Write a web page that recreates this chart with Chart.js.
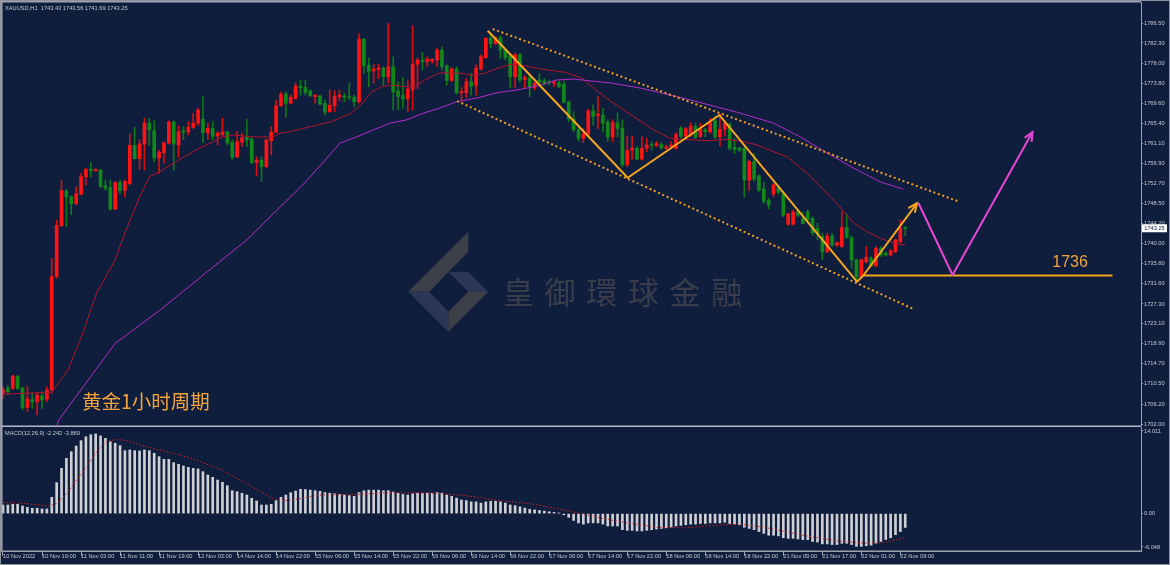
<!DOCTYPE html>
<html><head><meta charset="utf-8">
<script src="https://cdn.jsdelivr.net/npm/chart.js@4.4.1/dist/chart.umd.min.js"></script>
<style>
html,body{margin:0;padding:0;background:#101e3e;width:1170px;height:565px;overflow:hidden;}
#c1{position:absolute;left:0;top:0;}
#c2{position:absolute;left:0;top:427px;}
#frame{position:absolute;left:0;top:0;width:1168px;height:563px;border:1px solid #8d929e;pointer-events:none;}
</style></head><body>
<canvas id="c1" width="1170" height="427"></canvas>
<canvas id="c2" width="1170" height="138"></canvas>
<div id="frame"></div>
<script>
// ---------- DATA ----------
const symbolHeader = 'XAUUSD,H1  1743.43 1743.56 1741.69 1743.25';
const macdHeader = 'MACD(12,26,9) -2.242 -3.889';

const openP = [1708.5,1709.5,1709.5,1712.0,1709.5,1705.5,1707.1,1706.7,1707.9,1707.2,
1709.2,1733.1,1743.8,1751.0,1749.9,1748.5,1750.4,1754.1,1755.7,1755.4,
1755.5,1752.2,1751.8,1747.3,1752.9,1751.2,1752.7,1760.7,1757.9,1761.0,
1765.4,1763.8,1758.0,1759.2,1761.2,1765.6,1760.8,1763.8,1763.6,1764.5,
1765.4,1766.2,1763.4,1764.3,1762.7,1763.0,1763.5,1761.3,1758.3,1761.4,
1762.4,1762.0,1757.1,1757.6,1756.2,1761.7,1763.5,1769.1,1771.5,1769.6,
1770.6,1773.2,1772.9,1772.2,1771.0,1771.1,1769.6,1767.8,1769.1,1771.0,
1771.1,1771.0,1770.8,1769.9,1783.1,1777.6,1776.4,1776.7,1777.0,1775.2,
1777.3,1772.2,1771.3,1770.5,1772.4,1777.8,1778.7,1778.4,1778.5,1778.7,
1780.8,1777.5,1774.4,1776.8,1771.8,1771.8,1774.1,1773.4,1776.8,1779.2,
1783.3,1782.2,1783.4,1780.8,1779.6,1775.2,1779.8,1774.6,1775.0,1772.9,
1774.5,1774.3,1774.1,1773.8,1773.9,1773.6,1769.8,1766.3,1764.0,1762.2,
1763.1,1768.0,1767.0,1767.1,1765.6,1762.5,1765.5,1764.3,1756.6,1759.7,
1760.1,1757.8,1760.1,1760.9,1760.7,1760.9,1760.1,1760.4,1760.1,1764.4,
1762.6,1762.9,1764.7,1762.6,1764.0,1763.6,1765.9,1762.5,1764.1,1765.2,
1760.3,1760.1,1760.1,1753.4,1757.3,1754.3,1751.5,1749.1,1750.5,1751.8,
1750.5,1744.1,1744.1,1746.7,1745.3,1746.7,1745.3,1743.2,1741.5,1738.3,
1741.6,1739.7,1739.4,1743.4,1741.3,1736.6,1733.0,1736.2,1736.9,1735.3,
1739.0,1738.0,1737.6,1738.3,1740.4,1743.43];
const highP = [1709.9,1710.2,1712.3,1712.3,1709.9,1709.9,1708.5,1708.5,1708.8,1709.9,
1736.9,1745.0,1753.4,1751.5,1750.1,1752.0,1754.8,1755.9,1757.1,1755.8,
1755.7,1753.4,1753.4,1753.1,1753.4,1753.4,1763.1,1764.5,1761.9,1766.4,
1766.4,1765.9,1759.7,1761.5,1765.9,1765.9,1764.8,1764.7,1765.7,1767.5,
1768.5,1771.0,1765.4,1765.7,1763.6,1766.4,1763.8,1761.9,1763.6,1763.3,
1766.2,1762.4,1758.3,1758.3,1762.0,1764.7,1770.3,1772.0,1772.0,1771.3,
1773.9,1774.5,1774.5,1772.4,1771.4,1771.3,1770.3,1772.4,1772.2,1772.4,
1771.7,1773.8,1771.3,1784.3,1783.3,1779.1,1777.8,1777.8,1777.3,1786.4,
1779.4,1774.1,1775.0,1774.5,1785.9,1779.1,1780.3,1779.4,1778.9,1781.2,
1781.5,1777.7,1777.1,1777.3,1772.9,1774.8,1775.9,1777.7,1779.8,1783.4,
1784.3,1783.6,1783.8,1781.2,1779.9,1780.1,1780.1,1775.4,1775.6,1774.1,
1775.9,1774.8,1774.5,1774.5,1774.3,1774.3,1770.1,1767.8,1764.3,1764.3,
1768.3,1769.2,1771.0,1768.5,1766.1,1766.1,1767.6,1766.1,1762.7,1762.7,
1760.4,1762.5,1762.2,1761.5,1761.5,1761.3,1760.7,1761.5,1763.4,1764.7,
1764.5,1765.5,1765.4,1765.4,1764.3,1766.4,1766.8,1767.3,1765.7,1765.4,
1762.2,1760.4,1760.4,1757.6,1759.0,1754.5,1752.9,1749.6,1752.7,1752.2,
1751.0,1746.4,1747.1,1747.1,1746.7,1747.1,1745.7,1744.3,1742.2,1742.2,
1742.2,1740.4,1746.7,1746.3,1741.6,1736.7,1736.7,1739.4,1737.3,1739.4,
1739.4,1738.3,1738.8,1740.9,1745.0,1743.56];
const lowP = [1707.4,1708.3,1709.3,1709.2,1705.0,1704.6,1705.3,1703.9,1705.3,1706.7,
1708.5,1732.7,1743.6,1743.6,1746.1,1748.2,1750.3,1752.4,1754.1,1755.2,
1751.9,1751.3,1747.1,1747.2,1750.6,1749.8,1752.4,1757.8,1755.7,1755.5,
1760.7,1757.3,1754.8,1756.9,1761.0,1755.5,1758.2,1761.9,1762.9,1764.3,
1765.0,1761.3,1761.9,1761.9,1760.8,1762.6,1760.8,1757.8,1758.2,1760.5,
1760.5,1756.9,1754.3,1753.1,1756.1,1758.7,1763.4,1768.9,1766.6,1769.4,
1770.4,1771.3,1771.3,1771.0,1769.6,1769.2,1767.1,1767.7,1767.8,1770.1,
1769.9,1770.3,1768.9,1769.6,1775.9,1773.1,1773.8,1774.8,1773.4,1773.8,
1768.2,1768.2,1768.5,1767.8,1768.2,1772.7,1776.6,1777.3,1778.0,1777.3,
1776.6,1773.4,1774.1,1771.5,1770.1,1770.8,1771.3,1771.3,1776.6,1779.1,
1781.2,1781.9,1779.1,1778.7,1772.9,1772.9,1774.1,1772.9,1771.0,1772.4,
1773.3,1773.4,1773.4,1773.1,1772.9,1769.6,1765.7,1763.6,1761.6,1761.3,
1762.9,1765.0,1764.3,1763.6,1761.5,1761.5,1762.5,1756.2,1756.2,1757.8,
1757.6,1757.6,1759.4,1759.7,1760.4,1759.9,1759.9,1760.1,1759.9,1762.2,
1762.4,1762.5,1762.2,1762.4,1762.5,1763.3,1762.2,1760.6,1762.7,1759.7,
1759.0,1759.4,1749.8,1751.2,1753.1,1751.0,1748.5,1747.4,1749.9,1750.5,
1745.7,1743.9,1743.9,1745.7,1744.1,1744.3,1741.8,1740.8,1736.6,1738.1,
1739.4,1739.4,1739.2,1741.1,1734.8,1732.3,1732.9,1735.9,1735.2,1735.2,
1737.3,1737.4,1737.4,1738.1,1740.2,1741.69];
const closeP = [1709.2,1708.8,1712.1,1709.5,1705.5,1707.3,1706.7,1708.1,1707.1,1709.2,
1733.1,1743.9,1751.2,1749.9,1748.4,1750.5,1754.1,1755.7,1755.4,1755.5,
1752.0,1751.7,1747.3,1752.9,1751.2,1753.1,1760.7,1757.9,1761.0,1765.4,
1764.0,1758.1,1759.3,1761.2,1765.6,1761.0,1763.6,1763.5,1764.5,1765.4,
1768.2,1763.4,1764.3,1762.6,1763.3,1763.5,1761.2,1758.2,1761.5,1762.3,
1761.9,1757.1,1757.6,1756.2,1761.9,1763.5,1769.1,1771.5,1769.6,1770.8,
1773.2,1772.9,1771.9,1771.2,1771.3,1769.4,1767.7,1769.2,1771.0,1771.3,
1770.9,1770.8,1769.9,1783.1,1777.5,1776.3,1776.8,1777.0,1775.2,1777.3,
1772.0,1771.0,1770.5,1772.6,1777.8,1778.7,1778.4,1778.9,1778.9,1780.8,
1777.3,1774.4,1776.8,1771.8,1772.0,1774.1,1773.2,1777.0,1779.4,1783.3,
1782.2,1783.4,1780.8,1779.2,1775.2,1779.8,1774.5,1775.0,1773.1,1773.8,
1774.1,1773.8,1773.9,1774.0,1773.1,1769.8,1766.3,1764.0,1762.2,1763.1,
1768.0,1766.8,1767.3,1765.4,1762.5,1765.5,1764.3,1756.6,1759.7,1760.1,
1757.8,1760.1,1760.8,1760.7,1761.1,1760.2,1760.4,1760.8,1763.0,1762.6,
1764.2,1764.8,1762.4,1764.1,1763.6,1765.5,1762.5,1764.1,1765.4,1760.1,
1759.9,1759.7,1753.4,1757.3,1753.6,1751.3,1748.9,1748.2,1752.4,1750.8,
1746.0,1746.3,1746.7,1746.0,1744.3,1745.1,1742.3,1742.2,1738.3,1741.6,
1739.7,1740.2,1743.4,1741.3,1736.6,1733.0,1736.6,1737.1,1735.3,1739.0,
1737.6,1737.6,1738.5,1740.8,1743.2,1743.25];

// fast (red) moving average: bar index / price
const maFastX = [0,10,13.3,16,19.2,23,25,28,30,32,36,40.4,43,45,47.3,51.4,55.4,56.8,58.9,63.2,67.3,71.4,73.5,75.5,77.6,79.7,82.4,84.4,86.5,89.3,91.3,94,96,98.8,101.5,104.3,107,109.8,113.2,115.3,118.7,122,124.8,129.3,133.4,136.8,140.9,145,148.4,151.9,154.6,158,160.8,164.9,169,171.8,174.5,177.2,180,182.7,185];
const maFastY = [1708.3,1708.7,1713.4,1720.1,1729.6,1736.6,1742.3,1749.8,1754.1,1755.1,1757.6,1760.2,1761.4,1762.5,1762.9,1762.5,1762.5,1763.3,1763.6,1764.7,1765.7,1767.5,1769.4,1771.9,1773.1,1773.4,1773.1,1773.1,1774.5,1775.9,1776.1,1775.9,1775.5,1775.9,1777.0,1777.8,1777.5,1776.9,1776.4,1776.1,1774.9,1772.0,1769.9,1766.8,1764.0,1762.2,1761.9,1761.7,1762.0,1761.5,1760.8,1759.4,1758.3,1754.8,1750.6,1747.5,1744.3,1742.5,1741.1,1740.1,1739.7];
// slow (magenta) moving average
const maSlowX = [10.6,11.4,23.0,32.2,41.9,50,55.5,61,63,65.7,69.1,72.5,76,79.4,82.8,86.2,89.6,93,97.2,101.3,105.4,109.5,113.6,117,120.4,124.5,130.7,140.9,151.2,158,163.5,169,174.3,179.9,184.6];
const maSlowY = [1700.5,1702.8,1719.0,1726.0,1734.1,1740.8,1746.4,1751.9,1754.1,1757.2,1761.2,1762.5,1764.0,1765.4,1766.1,1767.5,1768.6,1769.9,1770.7,1771.8,1772.4,1773.2,1774.5,1774.7,1774.3,1773.9,1772.8,1770.3,1767.5,1765.4,1762.5,1759.1,1756.0,1753.0,1751.5];

// MACD histogram, one per bar
const macdHist = [1.39,1.39,1.50,1.50,1.23,1.01,0.86,0.86,0.75,0.75,
2.64,5.01,7.32,8.94,10.01,10.94,11.80,12.44,12.77,12.88,
12.56,12.18,11.64,11.38,10.99,10.18,10.29,10.18,10.13,10.29,
10.18,9.75,9.21,8.78,8.78,8.24,7.98,7.70,7.49,7.32,
7.22,6.78,6.25,5.87,5.43,5.07,4.51,3.70,3.55,3.29,
3.01,2.47,2.04,1.39,1.39,1.50,2.09,2.64,3.01,3.38,
3.65,3.93,3.9,3.8,3.7,3.6,3.4,3.3,3.2,3.1,
3.0,2.9,2.8,3.4,3.7,3.8,3.8,3.8,3.7,3.7,
3.5,3.3,3.1,3.0,3.2,3.3,3.3,3.3,3.3,3.4,
3.3,3.0,2.8,2.5,2.2,2.1,1.9,1.9,1.7,1.9,
2.0,2.0,1.9,1.7,1.4,1.3,1.1,0.9,0.7,0.6,
0.5,0.4,0.3,0.2,0.1,-0.2,-0.6,-1.1,-1.5,-1.7,
-1.5,-1.5,-1.5,-1.7,-2.0,-2.0,-2.0,-2.6,-2.7,-2.7,
-2.8,-2.8,-2.7,-2.6,-2.5,-2.4,-2.3,-2.2,-2.0,-1.9,
-1.8,-1.7,-1.7,-1.6,-1.6,-1.5,-1.5,-1.5,-1.4,-1.6,
-1.7,-1.8,-2.2,-2.4,-2.6,-2.9,-3.2,-3.5,-3.5,-3.6,
-3.9,-4.0,-4.0,-4.1,-4.2,-4.2,-4.5,-4.6,-4.9,-4.9,
-5.0,-5.0,-4.8,-4.8,-5.0,-5.3,-5.3,-5.2,-5.1,-4.8,
-4.5,-4.2,-3.9,-3.4,-2.9,-2.242];
// MACD signal line
const signalX = [0,5,9.6,11,13.1,15.1,17.2,19.2,21.2,23.3,25.3,28.1,31.5,35.6,40.4,44.5,48.6,52.8,55.6,58.4,61.1,65,72,80,88,95,102,108,113,118,123,128,134,140,146,151,156,161,166,171,176,179,182,185];
const signalY = [1.82,1.6,1.23,1.67,3.29,5.43,7.59,10.01,11.64,12.02,11.80,11.10,10.40,9.64,8.41,7.17,5.43,3.55,2.31,2.09,2.47,3.0,3.1,3.4,3.3,2.9,2.1,1.6,0.9,0.1,-0.8,-1.5,-2.2,-2.3,-1.9,-1.7,-2.2,-3.0,-3.8,-4.4,-4.75,-4.8,-4.5,-3.889];

// drawn analysis lines (bar index / price)
const zigzagX = [99.4,128.1,146.9,175.1,176.4,187.4];
const zigzagY = [1784.88,1753.90,1767.11,1731.99,1733.3,1748.51];
const upperX = [100.4,195.7], upperY = [1785.24,1748.99];
const lowerX = [93.1,186.7], lowerY = [1770.06,1726.23];
const levelX = [176.4,227.5], levelY = [1733.3,1733.3];
const pinkX = [187.7,194.7,211.1], pinkY = [1748.57,1733.4,1763.53];
const levelNote = {x:218.8, y:1736.1, text:'1736'};
const titleNote = '黄金1小时周期';
const watermark = '皇御環球金融';

const priceTicks = [1786.5,1782.3,1778.0,1773.8,1769.6,1765.4,1761.1,1756.9,1752.7,1748.5,1744.2,1740.0,1735.8,1731.6,1727.3,1723.1,1718.9,1714.7,1710.5,1706.2,1702.0];
const macdTickVals = [13.37,0,-5.40];
const macdTickText = ['14.011','0.00','-6.048'];
const labelBars = [0,8,16,24,32,40,48,56,64,72,80,88,96,104,112,120,128,136,144,152,160,168,176,184];
const timeLabels = ['10 Nov 2022','10 Nov 19:00','11 Nov 03:00','11 Nov 11:00','11 Nov 19:00','12 Nov 03:00','14 Nov 14:00','14 Nov 22:00','15 Nov 06:00','15 Nov 14:00','15 Nov 22:00','16 Nov 06:00','16 Nov 14:00','16 Nov 22:00','17 Nov 06:00','17 Nov 14:00','17 Nov 22:00','18 Nov 06:00','18 Nov 14:00','18 Nov 22:00','21 Nov 09:00','21 Nov 17:00','22 Nov 01:00','22 Nov 09:00'];

// ---------- BUILD ----------
const X_MIN = -0.205, X_MAX = 233.34;
const SMALL = {size:5.7, family:'Liberation Sans'};
const TXT = '#c3c7d0', LINE = '#9aa0ae';
const N = openP.length;
const wickData=[], bodyData=[], bodyCol=[], wickCol=[], histData=[];
for (let i=0;i<N;i++){
  wickData.push({x:i, y:[lowP[i], highP[i]]});
  bodyData.push({x:i, y:[openP[i], closeP[i]]});
  const up = closeP[i] >= openP[i];
  bodyCol.push(up ? '#ff1414' : '#11891a');
  wickCol.push(up ? '#d80f0f' : '#0f7716');
  histData.push({x:i, y:macdHist[i]});
}
const pts = (xs, ys) => xs.map((x,k)=>({x, y:ys[k]}));
const lineDs = (xs, ys, color, w, dash, order) => ({type:'line', data:pts(xs,ys), borderColor:color, borderWidth:w, borderDash:dash||[], pointRadius:0, tension:0, fill:false, order, borderCapStyle:'butt', borderJoinStyle:'round'});

function arrowHead(ctx, x1,y1,x2,y2,color){
  const a = Math.atan2(y2-y1, x2-x1), L=9, w=0.42;
  ctx.strokeStyle=color; ctx.lineWidth=2; ctx.lineCap='round';
  ctx.beginPath();
  ctx.moveTo(x2 - L*Math.cos(a-w), y2 - L*Math.sin(a-w));
  ctx.lineTo(x2,y2);
  ctx.lineTo(x2 - L*Math.cos(a+w), y2 - L*Math.sin(a+w));
  ctx.stroke();
}
function poly(ctx, p, c){ ctx.fillStyle=c; ctx.beginPath(); ctx.moveTo(p[0][0],p[0][1]); for(let k=1;k<p.length;k++) ctx.lineTo(p[k][0],p[k][1]); ctx.closePath(); ctx.fill(); }

const mainDecor = {
  id:'mainDecor',
  beforeDatasetsDraw(chart){
    const ctx = chart.ctx; ctx.save();
    poly(ctx, [[468.3,231.7],[468.3,251.7],[429.3,291.7],[408.3,291.7]], '#3c3e48');
    poly(ctx, [[408.3,291.7],[429.3,291.7],[448.3,311.7],[448.3,331.7]], '#2c3757');
    poly(ctx, [[448.3,271.7],[468.3,271.7],[488.3,291.7],[468.3,291.7]], '#2c3757');
    poly(ctx, [[468.3,291.7],[488.3,291.7],[448.3,331.7],[448.3,311.7]], '#3c3e48');
    ctx.fillStyle='#393d4b'; ctx.font='31px "Noto Sans CJK SC"'; ctx.textAlign='center'; ctx.textBaseline='middle';
    for (let k=0;k<watermark.length;k++) ctx.fillText(watermark[k], 518.3 + k*41.7, 292);
    ctx.restore();
  },
  afterDatasetsDraw(chart){
    const ctx = chart.ctx, xs = chart.scales.x, ys = chart.scales.y;
    ctx.save();
    const n = zigzagX.length;
    arrowHead(ctx, xs.getPixelForValue(zigzagX[n-2]), ys.getPixelForValue(zigzagY[n-2]), xs.getPixelForValue(zigzagX[n-1]), ys.getPixelForValue(zigzagY[n-1]), '#f5a51e');
    const m = pinkX.length;
    arrowHead(ctx, xs.getPixelForValue(pinkX[m-2]), ys.getPixelForValue(pinkY[m-2]), xs.getPixelForValue(pinkX[m-1]), ys.getPixelForValue(pinkY[m-1]), '#e846d4');
    ctx.restore();
  },
  afterDraw(chart){
    const ctx = chart.ctx, xs = chart.scales.x, ys = chart.scales.y;
    ctx.save();
    ctx.fillStyle='#f2a43a'; ctx.textBaseline='middle';
    ctx.font='19.5px "Noto Sans CJK SC"'; ctx.textAlign='left';
    ctx.fillText(titleNote, 82, 402);
    ctx.font='16px "Liberation Sans"'; ctx.textAlign='center';
    ctx.fillText(levelNote.text, xs.getPixelForValue(levelNote.x), ys.getPixelForValue(levelNote.y));
    ctx.font='5.7px "Liberation Sans"'; ctx.textAlign='left'; ctx.fillStyle=TXT;
    ctx.fillText(symbolHeader, 5, 8);
    const py = ys.getPixelForValue(closeP[N-1]);
    ctx.fillStyle='#ffffff'; ctx.fillRect(1142, py-4, 25, 8);
    ctx.fillStyle='#101e3e'; ctx.textAlign='center'; ctx.fillText(closeP[N-1].toFixed(2), 1154.5, py);
    ctx.fillStyle='#9da2ae';
    ctx.fillRect(0,1,1141,1.5);
    ctx.fillRect(1,0,1.5,427);
    ctx.fillStyle='#b4b8c3';
    ctx.fillRect(0,425.5,1141,1.5);
    ctx.restore();
  }
};

const macdDecor = {
  id:'macdDecor',
  afterDraw(chart){
    const ctx = chart.ctx; ctx.save();
    ctx.font='5.7px "Liberation Sans"'; ctx.fillStyle=TXT; ctx.textBaseline='middle'; ctx.textAlign='left';
    ctx.fillText(macdHeader, 5, 6);
    ctx.fillStyle='#9da2ae';
    ctx.fillRect(1,0,1.5,124);
    ctx.fillRect(0,123.5,1141,1.2);
    ctx.restore();
  }
};

new Chart(document.getElementById('c1'), {
  type:'bar',
  data:{datasets:[
    {type:'bar', data:wickData, backgroundColor:wickCol, barThickness:1, grouped:false, order:10},
    {type:'bar', data:bodyData, backgroundColor:bodyCol, barThickness:3, minBarLength:1, grouped:false, order:9},
    lineDs(maFastX, maFastY, '#b3142c', 1, null, 8),
    lineDs(maSlowX, maSlowY, '#b52cc6', 1, null, 7),
    lineDs(upperX, upperY, '#f0a020', 2, [2,2.7], 6),
    lineDs(lowerX, lowerY, '#f0a020', 2, [2,2.7], 5),
    lineDs(zigzagX, zigzagY, '#f5a51e', 2, null, 4),
    lineDs(levelX, levelY, '#f5a51e', 2, null, 3),
    lineDs(pinkX, pinkY, '#e846d4', 2, null, 2)
  ]},
  options:{
    responsive:false, animation:false, devicePixelRatio:1,
    layout:{padding:{left:2,right:0,top:2,bottom:2}},
    plugins:{legend:{display:false}, tooltip:{enabled:false}},
    scales:{
      x:{type:'linear', min:X_MIN, max:X_MAX, offset:false, display:false, bounds:'data'},
      y:{type:'linear', position:'right', min:1701.79, max:1790.93, bounds:'data',
        afterBuildTicks:s=>{ s.ticks = priceTicks.map(v=>({value:v})); },
        afterFit:s=>{ s.width=29; s.paddingTop=0; s.paddingBottom=0; s.paddingLeft=0; s.paddingRight=0; },
        ticks:{callback:v=>Number(v).toFixed(2), font:SMALL, color:TXT, padding:1, autoSkip:false},
        grid:{display:true, drawOnChartArea:false, drawTicks:true, tickLength:2, color:LINE},
        border:{display:true, color:LINE, width:1}
      }
    }
  },
  plugins:[mainDecor]
});

new Chart(document.getElementById('c2'), {
  type:'bar',
  data:{datasets:[
    {type:'bar', data:histData, backgroundColor:'#cfd0d4', barThickness:2, grouped:false, order:3},
    lineDs(signalX, signalY, '#d21c1c', 1, [1.5,2], 1)
  ]},
  options:{
    responsive:false, animation:false, devicePixelRatio:1,
    layout:{padding:{left:2,right:0,top:0,bottom:0}},
    plugins:{legend:{display:false}, tooltip:{enabled:false}},
    scales:{
      x:{type:'linear', min:X_MIN, max:X_MAX, offset:false, bounds:'data', position:'bottom',
        afterBuildTicks:s=>{ s.ticks = labelBars.map(v=>({value:v})); },
        afterFit:s=>{ s.height=14; s.paddingLeft=0; s.paddingRight=0; s.paddingTop=0; s.paddingBottom=0; },
        ticks:{callback:v=>{ const k=labelBars.indexOf(v); return k>=0?timeLabels[k]:''; }, font:SMALL, color:TXT, align:'start', autoSkip:false, maxRotation:0, minRotation:0, padding:-3},
        grid:{display:true, drawOnChartArea:false, drawTicks:true, tickLength:5, color:LINE, offset:false},
        border:{display:true, color:LINE, width:1}
      },
      y:{type:'linear', position:'right', min:-6.048, max:14.011, bounds:'data',
        afterBuildTicks:s=>{ s.ticks = macdTickVals.map(v=>({value:v})); },
        afterFit:s=>{ s.width=29; s.paddingTop=0; s.paddingBottom=0; s.paddingLeft=0; s.paddingRight=0; },
        ticks:{callback:v=>{ const k=macdTickVals.indexOf(v); return k>=0?macdTickText[k]:''; }, font:SMALL, color:TXT, padding:1, autoSkip:false},
        grid:{display:true, drawOnChartArea:false, drawTicks:true, tickLength:2, color:LINE},
        border:{display:true, color:LINE, width:1}
      }
    }
  },
  plugins:[macdDecor]
});
</script>
</body></html>
